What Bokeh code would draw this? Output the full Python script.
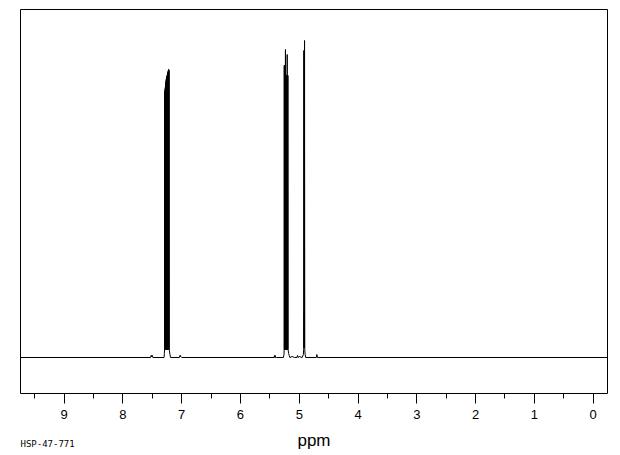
from bokeh.plotting import figure
from bokeh.models import Range1d, FixedTicker, Title
from bokeh.embed import file_html
from bokeh.resources import INLINE

# ---- data (ppm, relative intensity) ----
ppm = [9.743,
       7.53, 7.52, 7.515, 7.51, 7.505, 7.50, 7.49,
       7.30, 7.295, 7.290,
       7.288, 7.286, 7.284, 7.282, 7.280, 7.278, 7.276, 7.274, 7.272, 7.270,
       7.268, 7.266, 7.264, 7.262, 7.260, 7.258, 7.256, 7.254, 7.252, 7.250,
       7.248, 7.246, 7.244, 7.242, 7.240, 7.238, 7.236, 7.234, 7.232, 7.230,
       7.228, 7.226, 7.224, 7.222, 7.220, 7.218, 7.216, 7.214,
       7.21, 7.20, 7.19,
       7.04, 7.03, 7.025, 7.02, 7.015, 7.00,
       5.43, 5.42, 5.415, 5.41, 5.405, 5.39,
       5.27, 5.26, 5.256,
       5.255, 5.253, 5.251, 5.249, 5.247, 5.245, 5.243, 5.240, 5.235, 5.232,
       5.229, 5.226, 5.223, 5.220, 5.217, 5.214, 5.211, 5.208, 5.205, 5.202,
       5.199, 5.196, 5.193, 5.190,
       5.18, 5.17, 5.16, 5.12, 5.08, 5.04, 5.03, 5.02, 5.00,
       4.95, 4.93, 4.925, 4.922, 4.918, 4.914, 4.912, 4.910, 4.906, 4.90, 4.89,
       4.71, 4.70, 4.69,
       -0.245]
intensity = [0,
             0, 2, 1, 2, 1, 2, 0,
             0, 4, 10,
             266, 8, 268, 8, 270, 8, 272, 8, 274, 8,
             276, 8, 278, 8, 279, 8, 280, 8, 281, 8,
             282, 8, 283, 8, 284, 8, 285, 8, 286, 8,
             287, 8, 288, 8, 288, 8, 287, 10,
             7, 3, 0,
             0, 2, 1, 2, 1, 0,
             0, 2, 0, 2, 0, 0,
             0, 3, 8,
             292, 8, 292, 8, 292, 8, 292, 8, 308, 8,
             282, 8, 282, 8, 282, 8, 282, 8, 303, 8,
             282, 8, 282, 8,
             4, 2, 0, 1, 0, 0, 2, 0, 1,
             0, 3, 8, 307, 10, 44, 10, 317, 8, 3, 0,
             0, 3, 0,
             0]

major_ticks = [0, 1, 2, 3, 4, 5, 6, 7, 8, 9]
minor_ticks = [0.5, 1.5, 2.5, 3.5, 4.5, 5.5, 6.5, 7.5, 8.5, 9.5]
x_title = "ppm"
sample_id = "HSP-47-771"

p = figure(width=620, height=455, output_backend="svg", toolbar_location=None,
           x_range=Range1d(9.743, -0.245), y_range=Range1d(-36, 348),
           y_axis_location=None,
           min_border_left=20, min_border_right=13, min_border_top=9, min_border_bottom=62)
p.background_fill_color = "white"
p.border_fill_color = "white"
p.outline_line_color = "black"
p.outline_line_width = 1
p.outline_line_alpha = 1
p.xgrid.visible = False
p.ygrid.visible = False

p.line(ppm, intensity, line_color="black", line_width=1)

ax = p.xaxis[0]
ax.ticker = FixedTicker(ticks=major_ticks, minor_ticks=minor_ticks)
ax.axis_line_color = None
ax.major_tick_in = 0
ax.major_tick_out = 10
ax.minor_tick_in = 0
ax.minor_tick_out = 5
ax.major_tick_line_color = "black"
ax.minor_tick_line_color = "black"
ax.major_label_standoff = 6
ax.major_label_text_font = "Liberation Sans"
ax.major_label_text_font_size = "13px"
ax.major_label_text_color = "black"
ax.axis_label = x_title
ax.axis_label_standoff = 9
ax.axis_label_text_font = "Liberation Sans"
ax.axis_label_text_font_size = "17px"
ax.axis_label_text_font_style = "normal"
ax.axis_label_text_color = "black"

p.add_layout(Title(text=sample_id, align="left", vertical_align="top", standoff=-27, offset=0,
                   text_font="DejaVu Sans Mono", text_font_size="9px",
                   text_font_style="normal", text_color="black"), "below")

open("out.html", "w").write(file_html(p, INLINE))
